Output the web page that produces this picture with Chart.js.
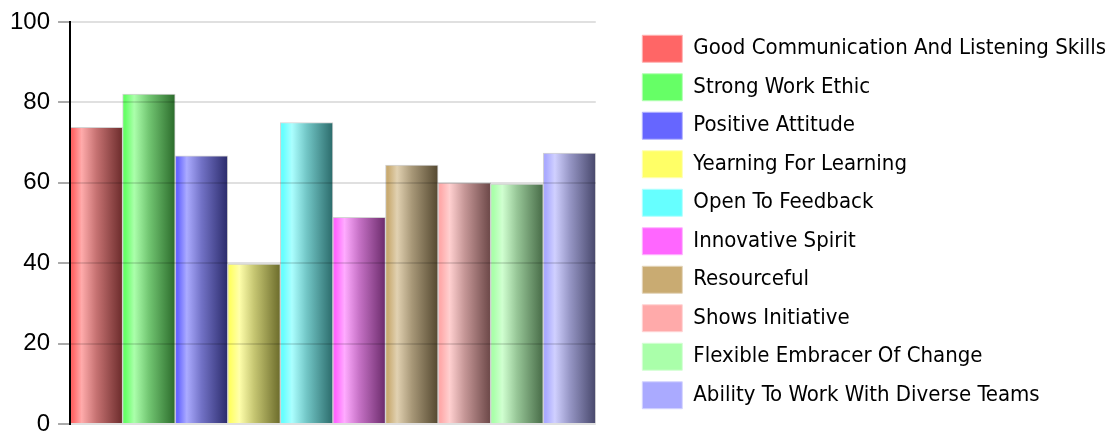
<!DOCTYPE html>
<html>
<head>
<meta charset="utf-8">
<script src="https://cdn.jsdelivr.net/npm/chart.js@4.4.1/dist/chart.umd.min.js"></script>
<style>
html,body{margin:0;padding:0;background:#fff;}
#wrap{width:1110px;height:432px;position:relative;}
</style>
</head>
<body>
<div id="wrap"><canvas id="c"></canvas></div>
<script>
const categories = [
  "Good Communication And Listening Skills",
  "Strong Work Ethic",
  "Positive Attitude",
  "Yearning For Learning",
  "Open To Feedback",
  "Innovative Spirit",
  "Resourceful",
  "Shows Initiative",
  "Flexible Embracer Of Change",
  "Ability To Work With Diverse Teams"
];
const values = [73.8, 82.1, 66.7, 39.8, 75.0, 51.4, 64.4, 60.0, 59.7, 67.4];
const colors = ["#ff6666", "#66ff66", "#6666ff", "#ffff66", "#66ffff", "#ff66ff", "#c9ab72", "#ffaaaa", "#aaffaa", "#aaaaff"];
const yTicks = [0, 20, 40, 60, 80, 100];

function hexToRgb(h){h=h.replace('#','');return [parseInt(h.substr(0,2),16),parseInt(h.substr(2,2),16),parseInt(h.substr(4,2),16)];}
function mix(hex, target, t){
  const a = hexToRgb(hex), b = hexToRgb(target);
  const c = a.map((v,i)=>Math.round(v + (b[i]-v)*t));
  return 'rgb(' + c.join(',') + ')';
}
function barFill(ctx){
  const chart = ctx.chart;
  const base = colors[ctx.dataIndex];
  if (!chart.chartArea || !chart.scales.x) return base;
  const xs = chart.scales.x;
  const w = xs.width / categories.length;
  const cx = xs.getPixelForValue(ctx.dataIndex);
  const g = chart.ctx.createLinearGradient(cx - w/2, 0, cx + w/2, 0);
  g.addColorStop(0, base);
  g.addColorStop(0.05, base);
  g.addColorStop(0.22, mix(base, '#ffffff', 0.45));
  g.addColorStop(0.5, mix(base, '#808080', 0.45));
  g.addColorStop(1, mix(base, '#000000', 0.58));
  return g;
}

const LEGEND_FONT = "'DejaVu Sans Condensed', 'Liberation Sans', sans-serif";
const TICK_FONT = "'Liberation Sans', Arial, sans-serif";
const LEGEND_SHIFT = 22;

const legendWidthPlugin = {
  id: 'legendWidth',
  beforeLayout(chart) {
    const lg = chart.legend;
    if (lg && !lg._wideWrapped) {
      const orig = lg.update;
      lg.update = function(w, h, m) { return orig.call(this, 560, h, m); };
      lg._wideWrapped = true;
    }
  },
  afterLayout(chart) {
    const lg = chart.legend;
    if (lg) { lg.left += LEGEND_SHIFT; lg.right += LEGEND_SHIFT; }
  }
};

new Chart(document.getElementById('c'), {
  type: 'bar',
  data: {
    labels: categories,
    datasets: [{
      data: values,
      yAxisID: 'y',
      backgroundColor: barFill,
      borderColor: 'rgba(200,200,200,0.8)',
      borderWidth: 1,
      categoryPercentage: 1.0,
      barPercentage: 1.0
    }]
  },
  plugins: [legendWidthPlugin],
  options: {
    responsive: true,
    maintainAspectRatio: false,
    animation: false,
    layout: { padding: { left: 2, top: 12, right: 16, bottom: 0 } },
    plugins: {
      tooltip: { enabled: false },
      legend: {
        position: 'right',
        align: 'center',
        labels: {
          boxWidth: 40,
          boxHeight: 27,
          padding: 11.5,
          color: '#000',
          font: { family: LEGEND_FONT, size: 22 },
          generateLabels: () => categories.map((c, i) => ({
            text: c,
            fillStyle: colors[i],
            strokeStyle: mix(colors[i], '#ffffff', 0.5),
            lineWidth: 1,
            hidden: false,
            index: i,
            fontColor: '#000'
          }))
        }
      }
    },
    scales: {
      x: { display: false },
      y: {
        position: 'left',
        min: 0,
        max: 100,
        afterBuildTicks: (s) => { s.ticks = yTicks.map(v => ({ value: v })); },
        afterFit: (s) => { s.paddingTop = 22; s.paddingBottom = 8; },
        ticks: {
          padding: 8,
          color: '#000',
          font: { family: TICK_FONT, size: 24, lineHeight: 1 }
        },
        grid: {
          color: 'rgba(0,0,0,0.12)',
          lineWidth: 2,
          tickLength: 12,
          tickColor: '#555',
          tickWidth: 1,
          z: 1
        },
        border: { display: true, color: '#000', width: 2, z: 2 }
      },
      yR: {
        position: 'right',
        display: true,
        grid: { display: false, drawTicks: false },
        border: { display: false },
        ticks: { display: false },
        afterFit: (s) => { s.width = 13; }
      }
    }
  }
});
</script>
</body>
</html>
